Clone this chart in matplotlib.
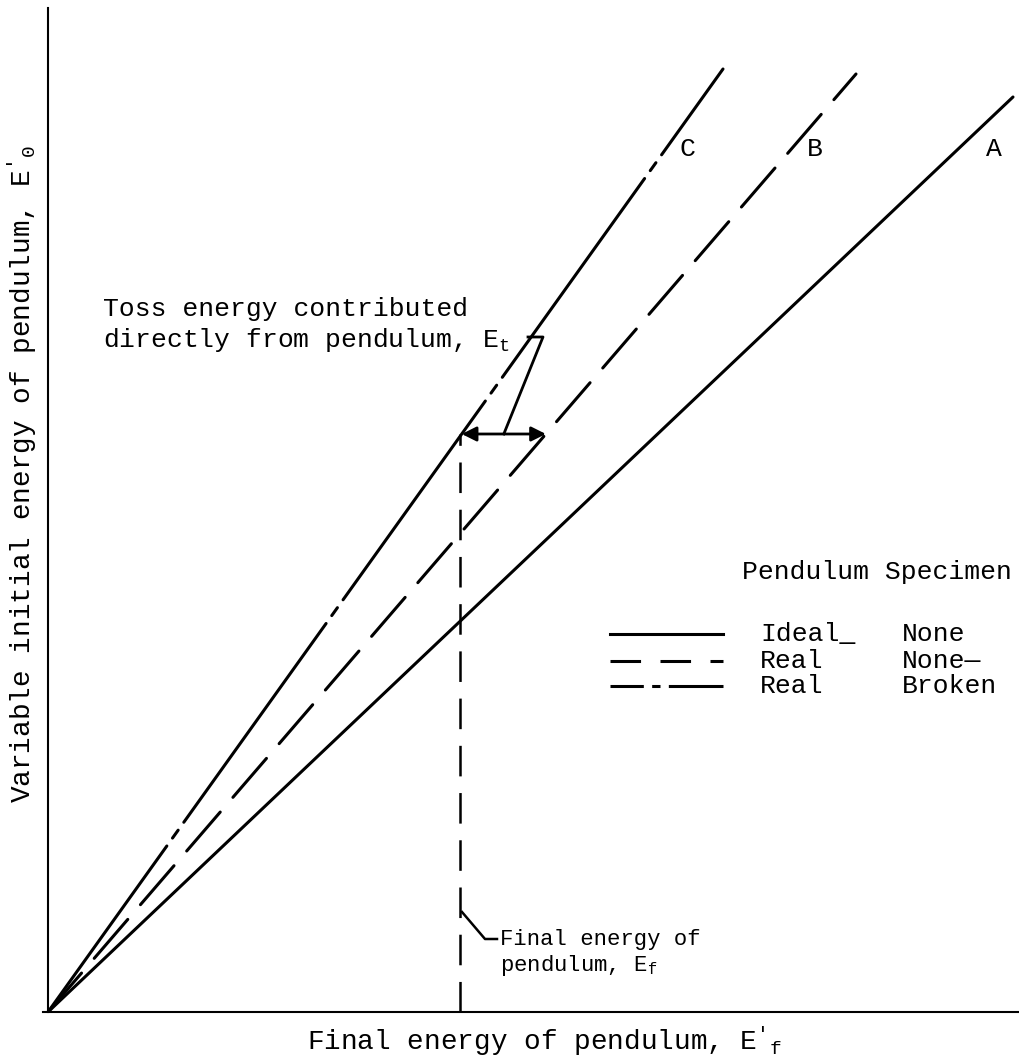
import matplotlib
matplotlib.use('Agg')
import matplotlib.pyplot as plt

plt.rcParams['font.family'] = ['Liberation Mono', 'DejaVu Sans']
plt.rcParams['mathtext.fontset'] = 'custom'
plt.rcParams['mathtext.rm'] = 'Liberation Mono'
plt.rcParams['mathtext.it'] = 'Liberation Mono'
plt.rcParams['lines.scale_dashes'] = False

# Curves through the origin (arbitrary energy units)
curve_names = ['A', 'B', 'C']
final_end = [965, 808, 675]        # E'f at the top of each curve
initial_end = [915, 938, 943]      # E'0 at the top of each curve
Ef = 412                           # final energy of pendulum
E0 = 578                           # initial energy level for toss energy

# Legend rows
legend_pendulum = ['Ideal_', 'Real', 'Real']
legend_specimen = ['None', 'None\u2014', 'Broken']

styles = {'A': '-', 'B': (0, (37, 14)), 'C': (29, (176, 7, 7, 7))}

fig = plt.figure(figsize=(10.19, 10.6), dpi=100)
ax = fig.add_axes([43 / 1019, 48 / 1060, 976 / 1019, 1004 / 1060])
ax.set_xlim(-5, 971)
ax.set_ylim(0, 1004)
for s in ['top', 'right']:
    ax.spines[s].set_visible(False)
ax.spines['left'].set_position(('data', 0))
ax.spines['left'].set_linewidth(1.5)
ax.spines['bottom'].set_linewidth(1.5)
ax.set_xticks([])
ax.set_yticks([])

for name, xe, ye in zip(curve_names, final_end, initial_end):
    ax.plot([0, xe], [0, ye], color='black', lw=2.2, linestyle=styles[name],
            solid_capstyle='round', dash_capstyle='round')

ax.text(639, 863, 'C', fontsize=19, ha='center', va='center')
ax.text(767, 863, 'B', fontsize=19, ha='center', va='center')
ax.text(946, 863, 'A', fontsize=19, ha='center', va='center')

# vertical dashed line at final energy
ax.plot([Ef, Ef], [0, E0], color='black', lw=1.8, linestyle=(0, (22, 12)))

# toss energy arrow between curves C and B
xc = E0 * final_end[2] / initial_end[2]
xb = E0 * final_end[1] / initial_end[1]
ax.annotate('', xy=(xc, E0), xytext=(xb, E0),
            arrowprops=dict(arrowstyle='<|-|>', color='black', lw=2,
                            mutation_scale=22, shrinkA=0, shrinkB=0))
xm = (xc + xb) / 2
ax.plot([xm, 495, 480], [E0, 675, 675], color='black', lw=2)
ax.text(55, 703, 'Toss energy contributed', fontsize=19, va='center')
ax.text(55, 672, r'directly from pendulum, $\mathrm{E}_\mathrm{t}$',
        fontsize=19, va='center')

# final energy annotation
ax.plot([Ef + 2, 437, 449], [100, 73, 73], color='black', lw=1.8)
ax.text(452, 73, 'Final energy of', fontsize=16, va='center')
ax.text(452, 47, r'pendulum, $\mathrm{E}_\mathrm{f}$', fontsize=16, va='center')

# legend
ax.text(694, 440, 'Pendulum Specimen', fontsize=19, va='center')
leg_y = [378, 351, 326]
leg_styles = ['-', (0, (22, 14)), (0, (24, 6, 6, 6, 40))]
for y, st, p, sp in zip(leg_y, leg_styles, legend_pendulum, legend_specimen):
    ax.plot([562, 675], [y, y], color='black', lw=2.2, linestyle=st)
    ax.text(712, y, p, fontsize=19, va='center')
    ax.text(854, y, sp, fontsize=19, va='center')

fig.text(22 / 1019, 1 - 474 / 1060,
         r"Variable initial energy of pendulum, $\mathrm{E}'_\mathrm{0}$",
         rotation=90, fontsize=20, ha='center', va='center')
fig.text(545 / 1019, 10 / 1060,
         r"Final energy of pendulum, $\mathrm{E}'_\mathrm{f}$",
         fontsize=20, ha='center', va='baseline')

fig.savefig('out.png', dpi=100)
